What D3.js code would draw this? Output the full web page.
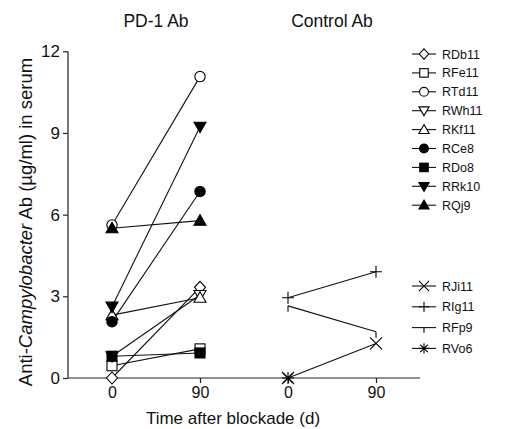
<!DOCTYPE html>
<html><head><meta charset="utf-8">
<script src="https://cdn.jsdelivr.net/npm/d3@7"></script>
<style>body{margin:0;background:#fff}svg{display:block}text{font-family:"Liberation Sans",Arial,sans-serif;fill:#111}</style>
</head><body><svg id="c" width="518" height="429"></svg>
<script>
const timepoints = [0, 90];
const panels = ["PD-1 Ab", "Control Ab"];
const pdNames   = ["RDb11","RFe11","RTd11","RWh11","RKf11","RCe8","RDo8","RRk10","RQj9"];
const pdShapes  = ["diamond","square","circle","triDown","triangle","circle","square","triDown","triangle"];
const pdFilled  = [false,false,false,false,false,true,true,true,true];
const pdDay0    = [0, 0.45, 5.62, 0.8, 2.31, 2.07, 0.8, 2.62, 5.5];
const pdDay90   = [3.33, 1.07, 11.07, 3.05, 2.95, 6.85, 0.92, 9.23, 5.78];
const ctNames   = ["RJi11","RIg11","RFp9","RVo6"];
const ctShapes  = ["times","plus","tee","asterisk"];
const ctDay0    = [0, 2.95, 2.65, 0];
const ctDay90   = [1.27, 3.9, 1.7, null];
const yTicks    = [0, 3, 6, 9, 12];

const svg = d3.select("#c");
const y = d3.scaleLinear().domain([0, 12]).range([378, 51.3]);
const xPD = d3.scaleLinear().domain([0, 90]).range([112, 200]);
const xCT = d3.scaleLinear().domain([0, 90]).range([288, 376]);

function marker(g, shape, filled, cx, cy, k) {
  k = k || 1;
  const s = g.append("g").attr("transform", `translate(${cx},${cy}) scale(${k})`);
  const fill = filled ? "#000" : "#fff";
  const apply = el => el.attr("stroke","#000").attr("stroke-width",1.1/k);
  if (shape === "circle") apply(s.append("circle").attr("r", 5.2).attr("fill", fill));
  else if (shape === "square") apply(s.append("rect").attr("x",-5).attr("y",-5).attr("width",10).attr("height",10).attr("fill", fill));
  else if (shape === "diamond") apply(s.append("path").attr("d","M0,-6L5.5,0L0,6L-5.5,0Z").attr("fill", fill));
  else if (shape === "triangle") apply(s.append("path").attr("d","M0,-6L6,4.5L-6,4.5Z").attr("fill", fill));
  else if (shape === "triDown") apply(s.append("path").attr("d","M0,6L6,-4.5L-6,-4.5Z").attr("fill", fill));
  else if (shape === "times") apply(s.append("path").attr("d","M-6,-6L6,6M-6,6L6,-6").attr("fill","none"));
  else if (shape === "plus") apply(s.append("path").attr("d","M-6,0L6,0M0,-6L0,6").attr("fill","none"));
  else if (shape === "tee") apply(s.append("path").attr("d","M0,0L0,6").attr("fill","none"));
  else if (shape === "asterisk") apply(s.append("path").attr("d","M-6,0L6,0M0,-6L0,6M-4.5,-4.5L4.5,4.5M-4.5,4.5L4.5,-4.5").attr("fill","none"));
}

// Y axis
const yAxis = d3.axisLeft(y).tickValues(yTicks).tickSize(5).tickPadding(3);
const gy = svg.append("g").attr("transform","translate(68,0)").call(yAxis);
gy.selectAll("path,line").attr("stroke","#222").attr("stroke-width",1.2);
gy.select(".domain").attr("d", `M0,${y(0)}V${y(12)}`);
gy.selectAll("text").style("font-size","17px").attr("fill","#111").style("font-family","Liberation Sans, Arial");

// X axis baseline
svg.append("line").attr("x1",68).attr("x2",420).attr("y1",y(0)).attr("y2",y(0)).attr("stroke","#222").attr("stroke-width",1.2);
[xPD, xCT].forEach(xs => {
  const ax = d3.axisBottom(xs).tickValues(timepoints).tickFormat(d3.format("d")).tickSize(5).tickPadding(4);
  const g = svg.append("g").attr("transform",`translate(0,${y(0)})`).call(ax);
  g.select(".domain").remove();
  g.selectAll("line").attr("stroke","#222").attr("stroke-width",1.2);
  g.selectAll("text").style("font-size","16px").attr("fill","#111").style("font-family","Liberation Sans, Arial");
});

// Titles
svg.append("text").attr("x",(xPD(0)+xPD(90))/2).attr("y",27).attr("text-anchor","middle").style("font-size","17.5px").text(panels[0]);
svg.append("text").attr("x",(xCT(0)+xCT(90))/2).attr("y",27).attr("text-anchor","middle").style("font-size","17.5px").text(panels[1]);
svg.append("text").attr("x",233).attr("y",424).attr("text-anchor","middle").style("font-size","17px").text("Time after blockade (d)");
const yl = svg.append("text").attr("transform","translate(32,222) rotate(-90)").attr("text-anchor","middle").style("font-size","18.5px");
yl.append("tspan").text("Anti-");
yl.append("tspan").style("font-style","italic").text("Campylobacter");
yl.append("tspan").text(" Ab (\u00b5g/ml) in serum");

// Lines
const lines = svg.append("g"), marks = svg.append("g");
pdNames.forEach((n,i) => {
  lines.append("line").attr("x1",xPD(0)).attr("y1",y(pdDay0[i])).attr("x2",xPD(90)).attr("y2",y(pdDay90[i])).attr("stroke","#111").attr("stroke-width",1.1);
});
ctNames.forEach((n,i) => {
  if (ctDay90[i] != null)
    lines.append("line").attr("x1",xCT(0)).attr("y1",y(ctDay0[i])).attr("x2",xCT(90)).attr("y2",y(ctDay90[i])).attr("stroke","#111").attr("stroke-width",1.1);
});
pdNames.forEach((n,i) => {
  marker(marks, pdShapes[i], pdFilled[i], xPD(0), y(pdDay0[i]));
  marker(marks, pdShapes[i], pdFilled[i], xPD(90), y(pdDay90[i]));
});
ctNames.forEach((n,i) => {
  marker(marks, ctShapes[i], false, xCT(0), y(ctDay0[i]));
  if (ctDay90[i] != null) marker(marks, ctShapes[i], false, xCT(90), y(ctDay90[i]));
});

// Legends
const leg = svg.append("g");
pdNames.forEach((n,i) => {
  const ly = 54 + i*18.9;
  leg.append("line").attr("x1",412).attr("x2",436).attr("y1",ly).attr("y2",ly).attr("stroke","#111").attr("stroke-width",1.1);
  marker(leg, pdShapes[i], pdFilled[i], 424, ly, 0.85);
  leg.append("text").attr("x",442).attr("y",ly).attr("dy","0.36em").style("font-size","12.5px").text(n);
});
ctNames.forEach((n,i) => {
  const ly = 286 + i*20.8;
  leg.append("line").attr("x1",412).attr("x2",436).attr("y1",ly).attr("y2",ly).attr("stroke","#111").attr("stroke-width",1.1);
  marker(leg, ctShapes[i], false, 424, ly, 0.85);
  leg.append("text").attr("x",442).attr("y",ly).attr("dy","0.36em").style("font-size","12.5px").text(n);
});
</script></body></html>
